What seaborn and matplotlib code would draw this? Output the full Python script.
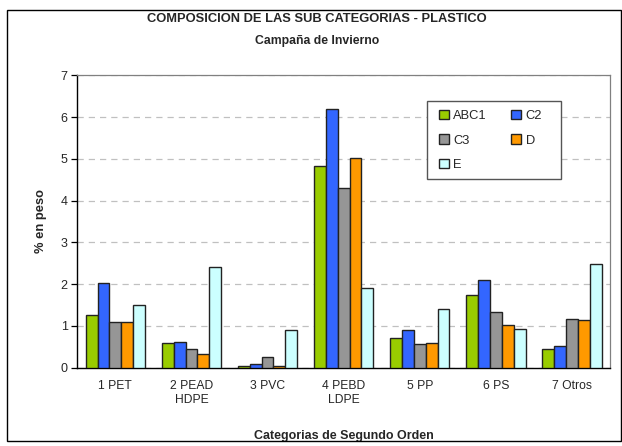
import matplotlib
matplotlib.use("Agg")
import matplotlib.pyplot as plt
import seaborn as sns
import pandas as pd
from matplotlib.patches import Rectangle

categories = ["1 PET", "2 PEAD\nHDPE", "3 PVC", "4 PEBD\nLDPE", "5 PP", "6 PS", "7 Otros"]
groups = ["ABC1", "C2", "C3", "D", "E"]
abc1 = [1.25, 0.58, 0.05, 4.83, 0.72, 1.74, 0.45]
c2 = [2.03, 0.61, 0.08, 6.19, 0.90, 2.11, 0.53]
c3 = [1.09, 0.45, 0.25, 4.31, 0.56, 1.33, 1.17]
d = [1.09, 0.33, 0.03, 5.03, 0.58, 1.02, 1.14]
e = [1.50, 2.41, 0.90, 1.91, 1.41, 0.93, 2.48]
colors = ["#99CC00", "#3366FF", "#969696", "#FF9900", "#CCFFFF"]

series = [abc1, c2, c3, d, e]
rows = []
for g, vals in zip(groups, series):
    for c, v in zip(categories, vals):
        rows.append({"cat": c, "grupo": g, "val": v})
df = pd.DataFrame(rows)

sns.set_theme(style="white")
plt.rcParams['font.family'] = ['Liberation Sans', 'DejaVu Sans']

fig = plt.figure(figsize=(6.22, 4.46), dpi=100)
ax = fig.add_axes([0.1243, 0.1756, 0.8564, 0.6556])

sns.barplot(data=df, x="cat", y="val", hue="grupo", palette=colors,
            order=categories, hue_order=groups, width=0.78,
            edgecolor="#222222", linewidth=1.0, saturation=1, ax=ax, zorder=3)

ax.set_ylim(0, 7)
ax.set_yticks(range(0, 8))
ax.set_xlim(-0.5, len(categories) - 0.5)
ax.yaxis.grid(True, linestyle=(0, (5, 4)), color="#c0c0c0", linewidth=0.9, zorder=0)
ax.set_axisbelow(True)
for s in ["left", "bottom"]:
    ax.spines[s].set_color("black")
    ax.spines[s].set_linewidth(1.0)
for s in ["top", "right"]:
    ax.spines[s].set_visible(True)
    ax.spines[s].set_color("#808080")
    ax.spines[s].set_linewidth(0.9)
ax.tick_params(axis="y", left=True, length=4, width=0.9, color="black", labelsize=9, pad=3)
ax.tick_params(axis="x", bottom=False, labelsize=8.7, pad=3)
ax.set_xlabel("Categorias de Segundo Orden", fontsize=9, fontweight="bold", labelpad=17)
ax.set_ylabel("% en peso", fontsize=9.3, fontweight="bold", labelpad=10)

# legend box drawn separately
ax.add_patch(Rectangle((0.656, 0.646), 0.252, 0.265, transform=ax.transAxes,
                       facecolor="white", edgecolor="#555555", linewidth=1.0, zorder=6))

handles, labels = ax.get_legend_handles_labels()
order = [0, 2, 4, 1, 3]
leg = ax.legend([handles[i] for i in order], [labels[i] for i in order],
                loc="upper left", bbox_to_anchor=(0.679, 0.882),
                ncol=2, frameon=False, borderpad=0, borderaxespad=0,
                fontsize=9.3, handlelength=0.75, handleheight=0.75,
                handletextpad=0.35, labelspacing=0.95, columnspacing=1.9)
leg.set_zorder(7)

fig.text(0.51, 0.958, "COMPOSICION DE LAS SUB CATEGORIAS - PLASTICO", ha="center", va="center",
         fontsize=9.3, fontweight="bold")
fig.text(0.51, 0.907, "Campaña de Invierno", ha="center", va="center",
         fontsize=8.8, fontweight="bold")

fig.patches.append(Rectangle((7 / 622, 1 - 441 / 446), 614 / 622, 431 / 446,
                             transform=fig.transFigure, fill=False,
                             edgecolor="black", linewidth=1.0))

fig.savefig("out.png", dpi=100)
